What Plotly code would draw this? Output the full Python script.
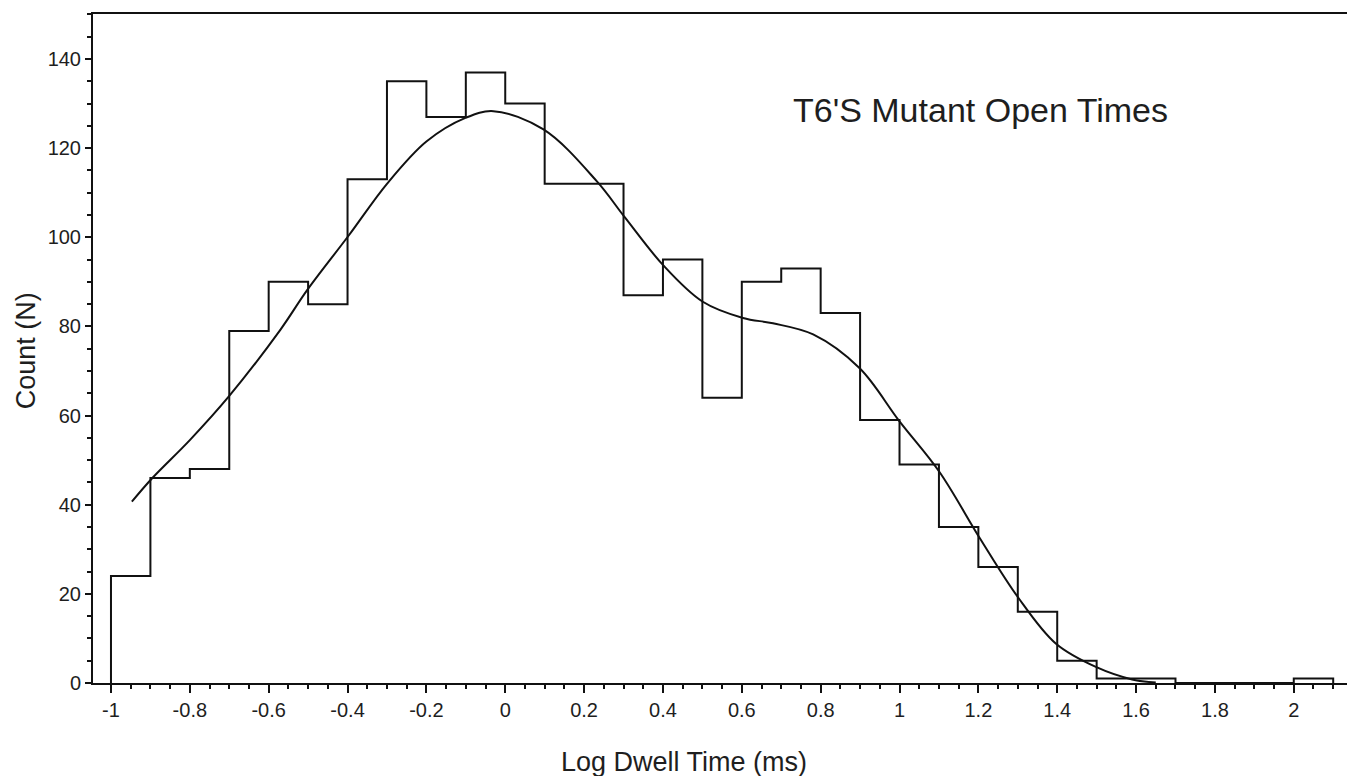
import plotly.graph_objects as go

# Histogram bins (log dwell time, width 0.1) and counts
bin_edges = [-1.0, -0.9, -0.8, -0.7, -0.6, -0.5, -0.4, -0.3, -0.2, -0.1, 0.0,
             0.1, 0.2, 0.3, 0.4, 0.5, 0.6, 0.7, 0.8, 0.9, 1.0,
             1.1, 1.2, 1.3, 1.4, 1.5, 1.6, 1.7, 1.8, 1.9, 2.0, 2.1]
counts = [24, 46, 48, 79, 90, 85, 113, 135, 127, 137,
          130, 112, 112, 87, 95, 64, 90, 93, 83, 59,
          49, 35, 26, 16, 5, 1, 1, 0, 0, 0, 1]

# Fitted curve, points
fit_x = [-0.947, -0.895, -0.80, -0.701, -0.57, -0.502, -0.397, -0.30, -0.20,
         -0.101, -0.03, 0.097, 0.232, 0.304, 0.401, 0.50, 0.603, 0.679,
         0.781, 0.899, 1.0, 1.101, 1.203, 1.30, 1.397, 1.498, 1.59, 1.65]
fit_y = [40.7, 46.0, 54.5, 64.3, 79.3, 88.2, 100.4, 112.0, 121.5,
         126.8, 128.3, 124.2, 112.6, 104.4, 93.7, 85.6, 81.9, 80.7,
         78.2, 70.6, 58.7, 47.4, 32.6, 19.3, 8.8, 3.6, 0.8, 0.1]

x_ticks = [-1, -0.8, -0.6, -0.4, -0.2, 0, 0.2, 0.4, 0.6, 0.8, 1, 1.2, 1.4, 1.6, 1.8, 2]
x_tick_text = ["-1", "-0.8", "-0.6", "-0.4", "-0.2", "0", "0.2", "0.4", "0.6",
               "0.8", "1", "1.2", "1.4", "1.6", "1.8", "2"]
y_ticks = [0, 20, 40, 60, 80, 100, 120, 140]

title_text = "T6'S Mutant Open Times"
x_title = "Log Dwell Time (ms)"
y_title = "Count (N)"

step_x = [bin_edges[0]] + bin_edges
step_y = [0] + counts + [0]

FONT = "Liberation Sans, Arial, sans-serif"
INK = "#111111"
TXT = "#1e1e1e"

fig = go.Figure()
fig.add_trace(go.Scatter(x=step_x, y=step_y, mode="lines", line_shape="hv",
                         line=dict(color=INK, width=2), hoverinfo="skip",
                         showlegend=False))
fig.add_trace(go.Scatter(x=fit_x, y=fit_y, mode="lines", line_shape="spline",
                         line=dict(color=INK, width=2), showlegend=False))

fig.add_annotation(x=1.205, y=128.5, xref="x", yref="y", text=title_text,
                   showarrow=False, font=dict(family=FONT, size=34, color=TXT))
fig.add_annotation(x=0.4713, y=-0.118, xref="paper", yref="paper", text=x_title,
                   showarrow=False, xanchor="center", yanchor="middle",
                   font=dict(family=FONT, size=27, color=TXT))
fig.add_annotation(x=-0.0534, y=0.496, xref="paper", yref="paper", text=y_title,
                   showarrow=False, xanchor="center", yanchor="middle", textangle=-90,
                   font=dict(family=FONT, size=27, color=TXT))

fig.update_layout(
    width=1347, height=776,
    margin=dict(l=93, r=0, t=14, b=93, autoexpand=False),
    paper_bgcolor="white", plot_bgcolor="white",
    font=dict(family=FONT, color=TXT),
    xaxis=dict(range=[-1.0456, 2.135], showgrid=False, zeroline=False, automargin=False,
               showline=True, linecolor=INK, linewidth=2, mirror=True,
               tickmode="array", tickvals=x_ticks, ticktext=x_tick_text,
               ticks="outside", ticklen=8, tickwidth=2, tickcolor=INK,
               tickfont=dict(size=20, family=FONT, color=TXT),
               minor=dict(dtick=0.05, tick0=0, ticks="outside", ticklen=4,
                          tickwidth=2, tickcolor=INK, showgrid=False)),
    yaxis=dict(range=[0, 150.1], showgrid=False, zeroline=False, automargin=False,
               showline=True, linecolor=INK, linewidth=2, mirror=False,
               tickmode="array", tickvals=y_ticks,
               ticks="outside", ticklen=6, tickwidth=2, tickcolor=INK,
               tickfont=dict(size=20, family=FONT, color=TXT),
               minor=dict(dtick=5, tick0=0, ticks="outside", ticklen=4,
                          tickwidth=2, tickcolor=INK, showgrid=False)),
)

fig.write_html("out.html", config={"displayModeBar": False},
               post_script="document.body.style.margin='0';document.body.style.overflow='hidden';")
